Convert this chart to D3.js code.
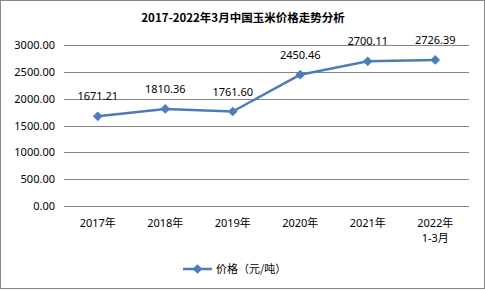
<!DOCTYPE html>
<html><head><meta charset="utf-8">
<script src="https://cdn.jsdelivr.net/npm/d3@7"></script>
<style>body{margin:0;background:#fff}svg{display:block}</style>
</head><body>
<script>
const categories = ["2017年","2018年","2019年","2020年","2021年","2022年\n1-3月"];
const prices = [1671.21, 1810.36, 1761.60, 2450.46, 2700.11, 2726.39];
const yTicks = [0, 500, 1000, 1500, 2000, 2500, 3000];
const title = "2017-2022年3月中国玉米价格走势分析";
const seriesName = "价格（元/吨）";

const W = 485, H = 290;
const svg = d3.select("body").append("svg").attr("width", W).attr("height", H);
const font = "'Noto Sans','Noto Sans CJK SC',sans-serif";
svg.append("rect").attr("x",0.5).attr("y",0.5).attr("width",W-1).attr("height",H-2)
  .attr("fill","#fff").attr("stroke","#888").attr("stroke-width",1);

svg.append("text").attr("x",243).attr("y",22).attr("text-anchor","middle")
  .attr("font-family","'Noto Sans CJK SC',sans-serif").attr("font-weight","bold").attr("font-size",11.5)
  .attr("fill","#000").text(title);

const x = d3.scaleBand().domain(categories).range([64, 469]);
const y = d3.scaleLinear().domain([0, 3000]).range([205.7, 45.3]);

const grid = svg.append("g");
grid.selectAll("line").data(yTicks).join("line")
  .attr("x1",64).attr("x2",469).attr("y1",d=>Math.round(y(d))+0.5).attr("y2",d=>Math.round(y(d))+0.5)
  .attr("stroke","#868686").attr("stroke-width",1);

const yAxis = svg.append("g").attr("transform","translate(64,0)")
  .call(d3.axisLeft(y).tickValues(yTicks).tickFormat(d=>d3.format(".2f")(d)).tickSize(0).tickPadding(9));
yAxis.select(".domain").remove();
yAxis.selectAll("text").attr("font-family",font).attr("font-size",11).attr("fill","#000");

const xAxis = svg.append("g").attr("transform","translate(0,206)")
  .call(d3.axisBottom(x).tickSize(0).tickFormat(""));
xAxis.select(".domain").remove();
xAxis.selectAll(".tick").each(function(d){
  const lines = d.split("\n");
  const t = d3.select(this).append("text").attr("font-family",font).attr("font-size",11)
    .attr("fill","#000").attr("text-anchor","middle");
  lines.forEach((l,i)=>t.append("tspan").attr("x",0).attr("y",21+i*15).text(l));
});

const color = "#4A7EBB";
const line = d3.line().x((d,i)=>x(categories[i])+x.bandwidth()/2).y(d=>y(d));
svg.append("path").datum(prices).attr("d",line).attr("fill","none")
  .attr("stroke",color).attr("stroke-width",2.5).attr("stroke-linejoin","round");

const diamond = d3.symbol().type(d3.symbolDiamond2).size(60);
svg.selectAll(".mk").data(prices).join("path")
  .attr("transform",(d,i)=>`translate(${x(categories[i])+x.bandwidth()/2},${y(d)})`)
  .attr("d",diamond).attr("fill",color);

svg.selectAll(".lbl").data(prices).join("text")
  .attr("x",(d,i)=>x(categories[i])+x.bandwidth()/2).attr("y",d=>y(d)-16)
  .attr("text-anchor","middle").attr("font-family",font).attr("font-size",11).attr("fill","#000")
  .text(d=>d3.format(".2f")(d));

const lg = svg.append("g");
lg.append("line").attr("x1",183).attr("x2",212).attr("y1",269).attr("y2",269)
  .attr("stroke",color).attr("stroke-width",2.5);
lg.append("path").attr("transform","translate(197.5,269)").attr("d",diamond).attr("fill",color);
lg.append("text").attr("x",216).attr("y",273).attr("font-family","'Noto Sans CJK SC',sans-serif")
  .attr("font-size",11).attr("fill","#000").text(seriesName);
</script>
</body></html>
